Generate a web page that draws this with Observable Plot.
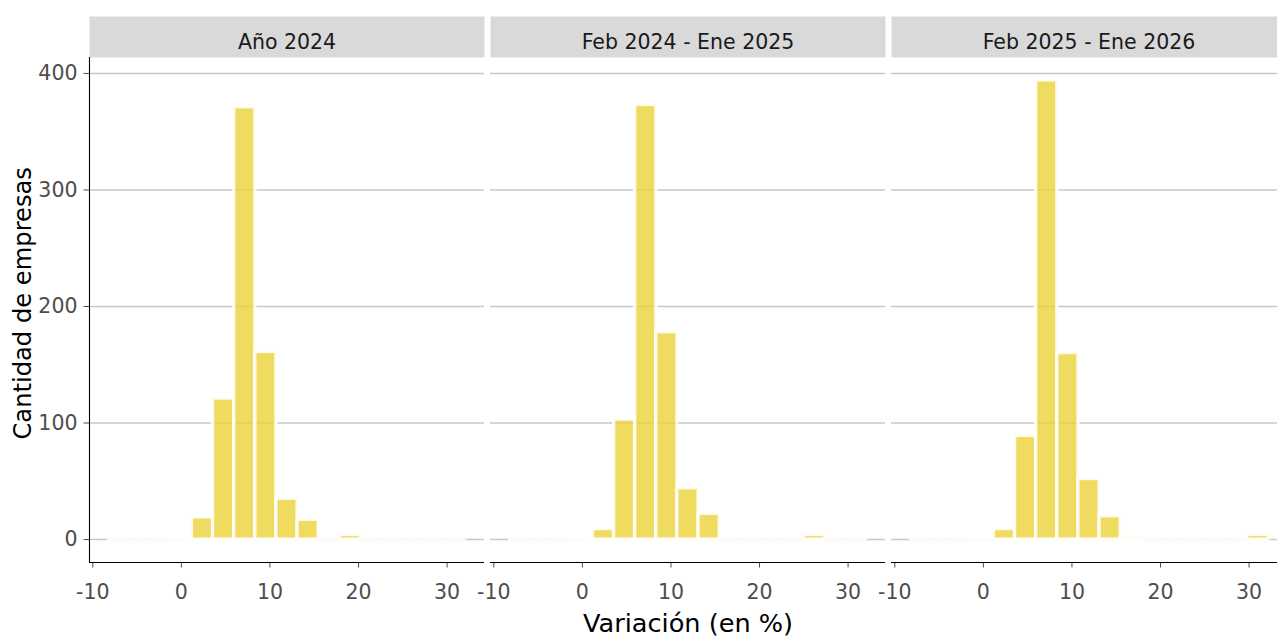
<!DOCTYPE html>
<html><head><meta charset="utf-8">
<script src="https://cdn.jsdelivr.net/npm/d3@7"></script>
<script src="https://cdn.jsdelivr.net/npm/@observablehq/plot@0.6"></script>
<style>
html,body{margin:0;padding:0;background:#fff;overflow:hidden}
#chart svg [aria-label="y-axis tick"], #chart svg [aria-label="x-axis tick"]{stroke:#333}
</style></head><body><div id="chart"></div>
<script>
// Facet (panel) names
const panels = ["Año 2024", "Feb 2024 - Ene 2025", "Feb 2025 - Ene 2026"];
// Histogram bin edges (Variación, %)
const binStart = [-8.35, -5.96, -3.58, -1.19, 1.19, 3.58, 5.96, 8.35, 10.73, 13.12, 15.50, 17.89, 20.27, 22.66, 25.04, 27.43, 29.81];
const binEnd   = [-5.96, -3.58, -1.19, 1.19, 3.58, 5.96, 8.35, 10.73, 13.12, 15.50, 17.89, 20.27, 22.66, 25.04, 27.43, 29.81, 32.20];
// Cantidad de empresas per bin, one array per panel
const countsAnio2024 = [0, 0, 0, 1, 19, 121, 371, 161, 35, 17, 0, 4, 0, 0, 0, 0, 0];
const countsFeb24Ene25 = [0, 0, 0, 1, 9, 103, 373, 178, 44, 22, 0, 0, 0, 0, 4, 0, 0];
const countsFeb25Ene26 = [0, 0, 0, 1, 9, 89, 394, 160, 52, 20, 2, 0, 0, 0, 0, 0, 4];
// Axis ticks
const xTicks = [-10, 0, 10, 20, 30];
const yTicks = [0, 100, 200, 300, 400];
const xDomain = [-10.375, 34.225];
const yDomain = [-19.7, 413.7];
const xTitle = "Variación (en %)";
const yTitle = "Cantidad de empresas";

const allCounts = [countsAnio2024, countsFeb24Ene25, countsFeb25Ene26];
const rows = [];
panels.forEach((p, i) => allCounts[i].forEach((c, j) => rows.push({panel: p, x1: binStart[j], x2: binEnd[j], count: c})));

const W = 1277, H = 637, mT = 57, mB = 75, mL = 89, mR = -9;
const panelH = H - mT - mB;

const chart = Plot.plot({
  width: W, height: H,
  marginTop: mT, marginBottom: mB, marginLeft: mL, marginRight: mR,
  style: {fontFamily: "'DejaVu Sans', sans-serif", fontSize: "20.5px", color: "#4d4d4d", background: "#fff"},
  fx: {domain: panels, axis: null, paddingInner: 0.016, paddingOuter: 0, label: null},
  x: {domain: xDomain, ticks: xTicks, tickSize: 5.5, tickPadding: 16.5, label: null, tickFormat: d => String(d)},
  y: {domain: yDomain, ticks: yTicks, tickSize: 5.5, tickPadding: 6.5, label: null, tickFormat: d => String(d)},
  marks: [
    Plot.frame({fill: "#d9d9d9", stroke: "none", insetTop: -41, insetBottom: panelH}),
    Plot.text(panels, {fx: d => d, text: d => d, frameAnchor: "top", lineAnchor: "middle", textAnchor: "middle", dy: -14.6, fill: "#1a1a1a", fontSize: 20.5}),
    Plot.ruleY(yTicks, {stroke: "#c8c8c8", strokeWidth: 1.5}),
    Plot.ruleY(rows, {fx: "panel", x1: "x1", x2: "x2", y: 0, stroke: "white", strokeWidth: 1.7}),
    Plot.rect(rows, {fx: "panel", x1: "x1", x2: "x2", y1: 0, y2: "count", fill: "#ecd23a", fillOpacity: 0.8, stroke: "white", strokeOpacity: 0.85, strokeWidth: 3.4}),
    Plot.ruleY([yDomain[0]], {stroke: "black", strokeWidth: 1.1}),
    Plot.ruleX([panels[0]], {fx: d => d, x: xDomain[0], stroke: "black", strokeWidth: 1.1}),
    Plot.text([{p: panels[0], t: yTitle}], {fx: "p", text: "t", frameAnchor: "left", textAnchor: "middle", lineAnchor: "middle", rotate: -90, dx: -66.6, dy: -6.7, fontSize: 24.2, fill: "black"}),
    Plot.text([{p: panels[1], t: xTitle}], {fx: "p", text: "t", frameAnchor: "bottom", textAnchor: "middle", lineAnchor: "middle", dy: 61.3, fontSize: 25.6, fill: "black"})
  ]
});
document.getElementById("chart").appendChild(chart);
</script></body></html>
